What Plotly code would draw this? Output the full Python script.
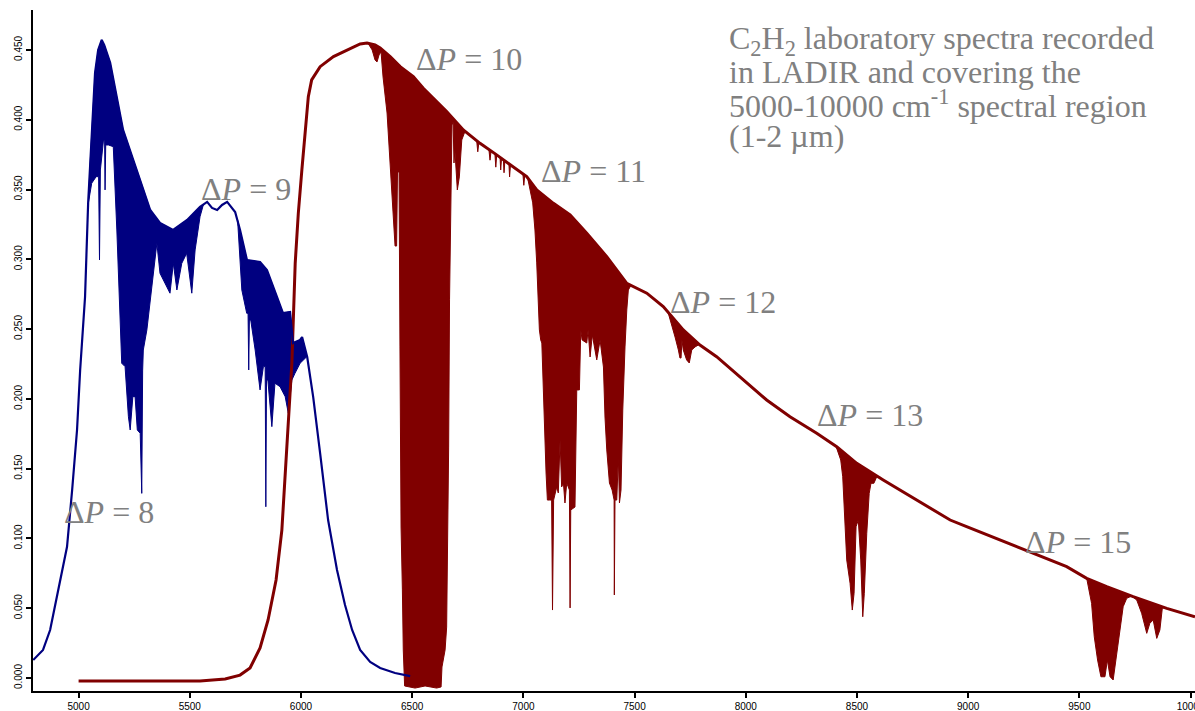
import plotly.graph_objects as go

# ---------------- data ----------------
# Blue spectrum (ΔP = 8, 9): upper envelope
blue_x = [4796, 4840, 4872, 4903, 4926, 4948, 4971, 4993, 5007, 5029, 5043, 5052, 5074, 5088, 5104,
          5115, 5142, 5200, 5277, 5322, 5366, 5425, 5488, 5546, 5578, 5600, 5623, 5645, 5668, 5704,
          5726, 5757, 5816, 5847, 5892, 5919, 5951, 5964, 5996, 6005, 6028, 6055, 6086, 6122, 6162,
          6198, 6230, 6266, 6311, 6356, 6423, 6491]
blue_y = [0.0129, 0.0201, 0.0344, 0.0580, 0.0760, 0.0940, 0.1347, 0.1777, 0.2207, 0.2730, 0.3404,
          0.3690, 0.4335, 0.4500, 0.4572, 0.4536, 0.4407, 0.3927, 0.3568, 0.3353, 0.3260, 0.3210,
          0.3282, 0.3375, 0.3411, 0.3368, 0.3353, 0.3389, 0.3411, 0.3339, 0.3210, 0.2995, 0.2981,
          0.2923, 0.2730, 0.2615, 0.2623, 0.2400, 0.2422, 0.2443, 0.2300, 0.2013, 0.1612, 0.1132,
          0.0774, 0.0523, 0.0344, 0.0201, 0.0115, 0.0072, 0.0036, 0.0014]

# Blue dense line bands: lower envelopes
blue_b1_x = [5044, 5059, 5079, 5090, 5094, 5098, 5112, 5117, 5119, 5122, 5134, 5156, 5172, 5183, 5194,
             5209, 5224, 5232, 5244, 5254, 5264, 5277, 5284, 5288, 5291, 5307, 5321, 5336, 5352, 5366,
             5389, 5411, 5426, 5442, 5464, 5486, 5509, 5524, 5546, 5561]
blue_b1_y = [0.3404, 0.3545, 0.3592, 0.3592, 0.2995, 0.3640, 0.3855, 0.3855, 0.3497, 0.3819, 0.3819,
             0.3807, 0.3210, 0.2780, 0.2255, 0.2231, 0.1872, 0.1777, 0.2016, 0.2016, 0.1777, 0.1753,
             0.1323, 0.2200, 0.2350, 0.2494, 0.2661, 0.2900, 0.3115, 0.2900, 0.2828, 0.2757, 0.2971,
             0.2780, 0.2971, 0.3043, 0.2757, 0.3067, 0.3305, 0.3390]
blue_b2_x = [5715, 5734, 5756, 5762, 5765, 5768, 5774, 5794, 5816, 5831, 5839, 5842, 5845, 5851, 5869,
             5883, 5906, 5929, 5943, 5959, 5973, 5996, 6011, 6026]
blue_b2_y = [0.3280, 0.2780, 0.2613, 0.2613, 0.2207, 0.2565, 0.2565, 0.2350, 0.2064, 0.2231, 0.2231,
             0.1227, 0.2135, 0.2135, 0.1801, 0.2112, 0.2087, 0.2016, 0.1897, 0.2135, 0.2183, 0.2255,
             0.2279, 0.2302]

# Red spectrum (ΔP = 10 ... 15): upper envelope
red_x = [5000, 5546, 5659, 5726, 5771, 5816, 5852, 5888, 5914, 5936, 5959, 5974, 5988, 6004, 6018,
         6033, 6048, 6086, 6146, 6221, 6266, 6297, 6333, 6356, 6401, 6446, 6505, 6550, 6610, 6655,
         6730, 6805, 6880, 6955, 7015, 7060, 7135, 7210, 7285, 7375, 7465, 7555, 7629, 7719, 7794,
         7869, 7989, 8094, 8199, 8319, 8409, 8499, 8618, 8769, 8919, 8993, 9143, 9293, 9443, 9533,
         9623, 9742, 9893, 10020]
red_y = [-0.0021, -0.0021, -0.0007, 0.0021, 0.0072, 0.0215, 0.0416, 0.0702, 0.1060, 0.1657, 0.2255,
         0.2971, 0.3330, 0.3640, 0.3927, 0.4165, 0.4285, 0.4380, 0.4452, 0.4512, 0.4543, 0.4550,
         0.4536, 0.4514, 0.4452, 0.4380, 0.4309, 0.4225, 0.4129, 0.4058, 0.3927, 0.3831, 0.3748,
         0.3664, 0.3592, 0.3497, 0.3401, 0.3318, 0.3186, 0.3019, 0.2828, 0.2757, 0.2661, 0.2494,
         0.2386, 0.2302, 0.2135, 0.1992, 0.1872, 0.1753, 0.1657, 0.1538, 0.1419, 0.1275, 0.1132,
         0.1084, 0.0989, 0.0894, 0.0798, 0.0714, 0.0654, 0.0583, 0.0499, 0.0439]

# Red absorption bands: lower envelopes
red_b10_x = [6302, 6320, 6333, 6342, 6351, 6360, 6369, 6387, 6400, 6409, 6423, 6430, 6434, 6441, 6445,
             6450, 6456, 6460, 6466, 6513, 6558, 6610, 6630, 6634, 6648, 6655, 6660, 6664, 6668, 6672,
             6679, 6684, 6688, 6692, 6703, 6712, 6723, 6738]
red_b10_y = [0.4546, 0.4500, 0.4428, 0.4414, 0.4464, 0.4486, 0.4306, 0.4048, 0.3690, 0.3497, 0.3095,
             0.3095, 0.3626, 0.3626, 0.2372, 0.1082, 0.0631, 0.0201, -0.0057, -0.0072, -0.0057,
             -0.0072, -0.0064, 0.0079, 0.0201, 0.0365, 0.1039, 0.1655, 0.2709, 0.3303, 0.3962,
             0.3984, 0.3690, 0.3783, 0.3497, 0.3590, 0.3855, 0.3919]
red_s1_x = [6760, 6790, 6795, 6800, 6845, 6850, 6855, 6872, 6876, 6880, 6895, 6898, 6902, 6910, 6913,
            6917, 6935, 6938, 6942, 6998, 7002, 7006, 7015]
red_s1_y = [0.3889, 0.3851, 0.3770, 0.3838, 0.3787, 0.3710, 0.3780, 0.3757, 0.3660, 0.3748, 0.3731,
            0.3640, 0.3727, 0.3715, 0.3620, 0.3708, 0.3686, 0.3590, 0.3678, 0.3611, 0.3530, 0.3602,
            0.3592]
red_b11_x = [7021, 7030, 7042, 7052, 7060, 7072, 7078, 7083, 7090, 7097, 7102, 7108, 7117, 7127, 7131,
             7136, 7150, 7157, 7165, 7172, 7180, 7187, 7195, 7207, 7210, 7213, 7232, 7240, 7252, 7258,
             7264, 7285, 7291, 7300, 7310, 7330, 7345, 7360, 7367, 7375, 7387, 7399, 7408, 7409, 7412,
             7420, 7427, 7432, 7439, 7447, 7457, 7465, 7472, 7484]
red_b11_y = [0.3568, 0.3497, 0.3404, 0.3210, 0.2974, 0.2494, 0.2422, 0.2400, 0.2064, 0.1756, 0.1469,
             0.1275, 0.1275, 0.1275, 0.0487, 0.1275, 0.1369, 0.1326, 0.1705, 0.1369, 0.1397, 0.1254,
             0.1397, 0.1347, 0.0502, 0.1204, 0.1225, 0.2064, 0.2064, 0.2494, 0.2422, 0.2400, 0.2494,
             0.2300, 0.2458, 0.2279, 0.2422, 0.2228, 0.1870, 0.1634, 0.1397, 0.1347, 0.1275, 0.0595,
             0.1275, 0.1275, 0.1584, 0.1254, 0.1347, 0.1920, 0.2372, 0.2637, 0.2780, 0.2814]
red_b12_x = [7650, 7667, 7682, 7697, 7704, 7709, 7713, 7719, 7734, 7746, 7757, 7772, 7790]
red_b12_y = [0.2623, 0.2529, 0.2443, 0.2350, 0.2293, 0.2293, 0.2422, 0.2350, 0.2279, 0.2257, 0.2350,
             0.2372, 0.2389]
red_b13_x = [8406, 8416, 8427, 8436, 8443, 8454, 8469, 8479, 8487, 8496, 8506, 8517, 8526, 8533, 8544,
             8555, 8563, 8576, 8589, 8604, 8617]
red_b13_y = [0.1659, 0.1610, 0.1562, 0.1442, 0.1156, 0.0846, 0.0679, 0.0487, 0.0607, 0.1084, 0.1132,
             0.0846, 0.0439, 0.0607, 0.1037, 0.1323, 0.1395, 0.1395, 0.1442, 0.1440, 0.1420]
red_b15_x = [9533, 9540, 9555, 9567, 9582, 9597, 9615, 9626, 9638, 9652, 9668, 9683, 9697, 9713, 9735,
             9758, 9780, 9803, 9817, 9832, 9848, 9862, 9873, 9884]
red_b15_y = [0.0714, 0.0654, 0.0535, 0.0296, 0.0129, 0.0009, 0.0009, 0.0129, 0.0009, -0.0014, 0.0177,
             0.0344, 0.0511, 0.0571, 0.0587, 0.0559, 0.0464, 0.0320, 0.0392, 0.0416, 0.0284, 0.0344,
             0.0499, 0.0505]

x_ticks = [5000, 5500, 6000, 6500, 7000, 7500, 8000, 8500, 9000, 9500, 10000]
y_ticks = [0.0, 0.05, 0.10, 0.15, 0.20, 0.25, 0.30, 0.35, 0.40, 0.45]

band_labels = ["8", "9", "10", "11", "12", "13", "15"]
info_lines = ["C<sub>2</sub>H<sub>2</sub> laboratory spectra recorded",
              "in LADIR and covering the",
              "5000-10000 cm<sup>-1</sup> spectral region",
              "(1-2 µm)"]

# ---------------- layout constants ----------------
W, H = 1195, 711
ML, MR, MT, MB = 33, 0, 10, 20
BLUE = "#000080"
RED = "#800000"
GREY = "#808080"
SERIF = "Liberation Serif, Times New Roman, serif"
SANS = "Liberation Sans, Arial, sans-serif"

label_px = [(62, 512), (199, 189), (414, 59), (539, 171), (668, 302), (815, 415), (1023, 542)]
info_px = [(727, 40), (727, 72), (727, 104), (727, 136)]


def paper(px, py):
    return (px - ML) / (W - ML - MR), (H - MB - py) / (H - MT - MB)


def band_polygon(ux, uy, lx, ly):
    top = [(a, b) for a, b in zip(ux, uy) if lx[0] < a < lx[-1]]
    xs = [lx[0]] + [p[0] for p in top] + lx[::-1]
    ys = [ly[0]] + [p[1] for p in top] + ly[::-1]
    return xs, ys


fig = go.Figure()


def add_band(ux, uy, lx, ly, color):
    xs, ys = band_polygon(ux, uy, lx, ly)
    fig.add_trace(go.Scatter(x=xs, y=ys, mode="lines", fill="toself", fillcolor=color,
                             line=dict(color=color, width=1), hoverinfo="skip", showlegend=False))


# blue bands first
add_band(blue_x, blue_y, blue_b1_x, blue_b1_y, BLUE)
add_band(blue_x, blue_y, blue_b2_x, blue_b2_y, BLUE)

# red spectrum
fig.add_trace(go.Scatter(x=red_x, y=red_y, mode="lines", line=dict(color=RED, width=3),
                         hoverinfo="skip", showlegend=False))
for lx, ly in [(red_b10_x, red_b10_y), (red_s1_x, red_s1_y), (red_b11_x, red_b11_y),
               (red_b12_x, red_b12_y), (red_b13_x, red_b13_y), (red_b15_x, red_b15_y)]:
    add_band(red_x, red_y, lx, ly, RED)

# blue envelope line on top
fig.add_trace(go.Scatter(x=blue_x, y=blue_y, mode="lines", line=dict(color=BLUE, width=2.2),
                         hoverinfo="skip", showlegend=False))

annotations = []
for lab, (px, py) in zip(band_labels, label_px):
    xp, yp = paper(px, py)
    annotations.append(dict(x=xp, y=yp, xref="paper", yref="paper", xanchor="left", yanchor="middle",
                            text="Δ<i>P</i> = " + lab, showarrow=False,
                            font=dict(family=SERIF, size=32, color=GREY)))
for line, (px, py) in zip(info_lines, info_px):
    xp, yp = paper(px, py)
    annotations.append(dict(x=xp, y=yp, xref="paper", yref="paper", xanchor="left", yanchor="middle",
                            text=line, showarrow=False, align="left",
                            font=dict(family=SERIF, size=32, color=GREY)))

fig.update_layout(
    width=W, height=H,
    margin=dict(l=ML, r=MR, t=MT, b=MB, pad=0),
    paper_bgcolor="white", plot_bgcolor="white",
    showlegend=False,
    annotations=annotations,
    xaxis=dict(range=[4795, 10020], tickvals=x_ticks, ticktext=[str(v) for v in x_ticks],
               showgrid=False, zeroline=False, showline=True, linecolor="black", linewidth=2,
               ticks="outside", ticklen=5, tickwidth=1.5, tickcolor="black", automargin=False,
               ticklabeloverflow="allow",
               tickfont=dict(family=SANS, size=10, color="black")),
    yaxis=dict(range=[-0.0093, 0.4786], tickvals=y_ticks, tickformat=".3f", tickangle=-90,
               showgrid=False, zeroline=False, showline=True, linecolor="black", linewidth=2,
               ticks="outside", ticklen=5, tickwidth=1.5, tickcolor="black", automargin=False,
               ticklabeloverflow="allow",
               tickfont=dict(family=SANS, size=10, color="black")),
)

fig.write_html("out.html", config={"displayModeBar": False},
               post_script="document.body.style.margin='0';document.body.style.overflow='hidden';")
